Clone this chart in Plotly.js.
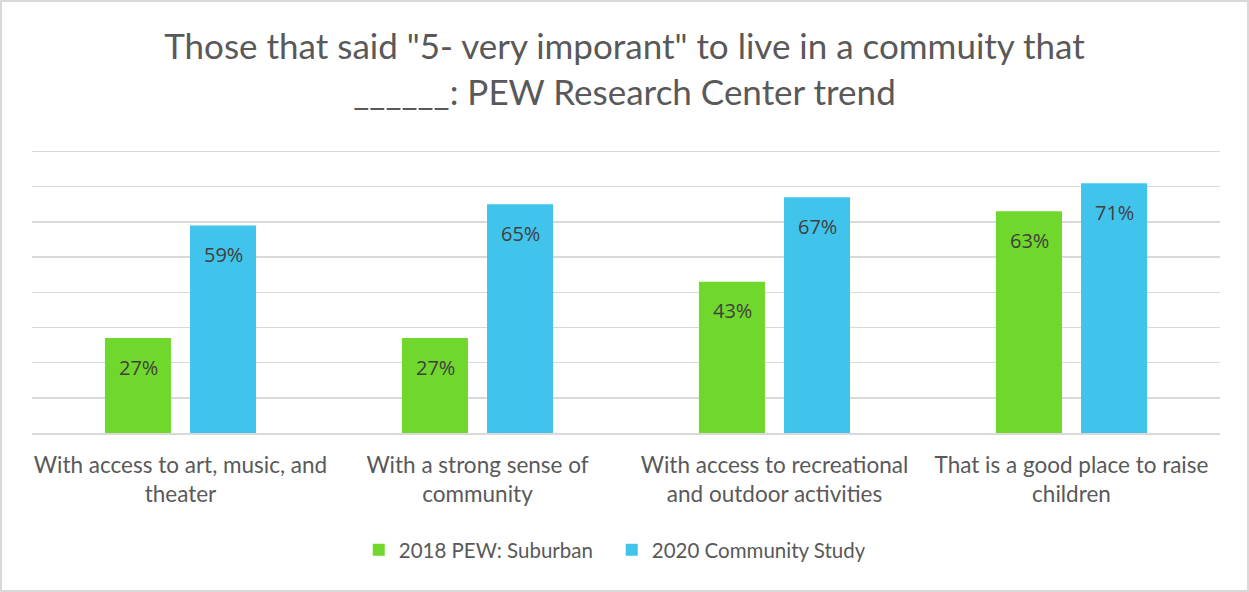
<!DOCTYPE html>
<html>
<head>
<meta charset="utf-8">
<script src="https://cdn.plot.ly/plotly-3.0.1.min.js"></script>
<style>
  html, body { margin: 0; padding: 0; background: #fff; }
  #wrap { position: relative; width: 1249px; height: 592px; }
  #chart { width: 1249px; height: 592px; }
  #frame { position: absolute; left: 0; top: 0; width: 1249px; height: 592px; box-sizing: border-box;
           border: 2px solid #d9d9d9; pointer-events: none; }
</style>
</head>
<body>
<div id="wrap">
  <div id="chart"></div>
  <div id="frame"></div>
</div>
<script>
const categories = [
  "With access to art, music, and<br>theater",
  "With a strong sense of<br>community",
  "With access to recreational<br>and outdoor activities",
  "That is a good place to raise<br>children",
];
const suburban2018 = [27, 27, 43, 63];
const community2020 = [59, 65, 67, 71];
const seriesNames = ["2018 PEW: Suburban", "2020 Community Study"];

const green = "#70d82c";
const blue = "#41c4ec";
const font = "Lato, 'Open Sans', sans-serif";

const traces = [
  { name: seriesNames[0], values: suburban2018, color: green },
  { name: seriesNames[1], values: community2020, color: blue },
].map((s) => ({
  type: "bar",
  name: s.name,
  x: categories,
  y: s.values,
  marker: { color: s.color, line: { width: 0 } },
  hoverinfo: "skip",
}));

// value labels sit a little below each bar top
const annotations = [];
[suburban2018, community2020].forEach((vals, i) => {
  vals.forEach((v, j) => {
    annotations.push({
      x: categories[j],
      y: v,
      xref: "x",
      yref: "y",
      text: v + "%",
      showarrow: false,
      xshift: i === 0 ? -42.5 : 42.5,
      yshift: -29,
      font: { family: "'Open Sans', sans-serif", size: 20, color: "#404040" },
    });
  });
});

const layout = {
  width: 1249,
  height: 592,
  margin: { l: 32, r: 29, t: 148, b: 159 },
  paper_bgcolor: "#fff",
  plot_bgcolor: "#fff",
  font: { family: font, color: "#595959" },
  title: {
    text: 'Those that said "5- very imporant" to live in a commuity that<br>______: PEW Research Center trend',
    font: { family: font, size: 35, color: "#595959" },
    x: 0.5,
    xanchor: "center",
    y: 0.9,
    yanchor: "top",
    yref: "container",
  },
  barmode: "group",
  bargap: 0.427,
  bargroupgap: 0.224,
  xaxis: {
    type: "category",
    showgrid: false,
    showline: true,
    linecolor: "#d9d9d9",
    linewidth: 2,
    ticks: "outside",
    ticklen: 11,
    tickcolor: "rgba(0,0,0,0)",
    tickfont: { family: font, size: 22.5, color: "#595959" },
    fixedrange: true,
  },
  yaxis: {
    range: [0, 81],
    dtick: 10,
    showticklabels: false,
    showgrid: true,
    gridcolor: "#d9d9d9",
    gridwidth: 1.5,
    zeroline: false,
    fixedrange: true,
  },
  legend: {
    orientation: "h",
    x: 0.488,
    xanchor: "center",
    y: -0.41,
    yanchor: "middle",
    font: { family: font, size: 20.5, color: "#595959" },
    itemwidth: 30,
    entrywidth: 208,
    traceorder: "normal",
  },
  annotations: annotations,
  showlegend: true,
};

Plotly.newPlot("chart", traces, layout, { displayModeBar: false, staticPlot: true });
</script>
</body>
</html>
